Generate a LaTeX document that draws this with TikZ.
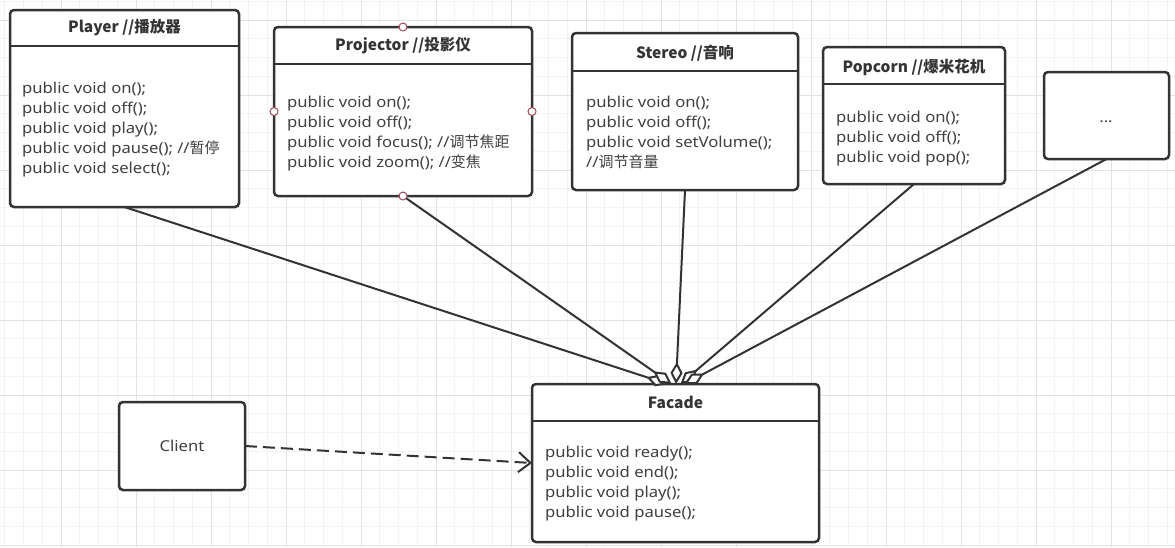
\documentclass[tikz,border=0pt]{standalone}
\usepackage{fontspec}
\setmainfont{Noto Sans}[FakeStretch=1.11]
\newfontfamily\cjk{Noto Sans CJK SC}
\usetikzlibrary{arrows.meta,calc}
\definecolor{ink}{HTML}{333333}
\definecolor{txt}{HTML}{404040}
\definecolor{gminor}{HTML}{F3F3F3}
\definecolor{gmajor}{HTML}{E3E3E3}
\definecolor{portc}{HTML}{9A4A55}
\tikzset{
  umlbox/.style={draw=ink, fill=white, line width=2.5pt, rounded corners=4pt, outer sep=0pt, inner sep=0pt, anchor=north west},
  divider/.style={draw=ink, line width=2.5pt},
  title/.style={font=\fontsize{15.5pt}{20pt}\selectfont\cjk\bfseries, text=ink, inner sep=0pt},
  body/.style={font=\fontsize{15pt}{20pt}\selectfont, text=txt, align=left, anchor=north west, inner sep=0pt},
  conn/.style={draw=ink, line width=2pt, -{Diamond[length=22pt,width=12pt,fill=white,line width=2pt]}},
  dep/.style={draw=ink, line width=2pt, dash pattern=on 12pt off 6pt, -{Straight Barb[length=12pt,width=20pt,line width=2pt]}},
  port/.style={circle, draw=portc, fill=white, line width=1pt, minimum size=8pt, inner sep=0pt}
}
\begin{document}
\begin{tikzpicture}[x=1pt, y=-1pt]
\useasboundingbox (0,0) rectangle (1175,547);
\fill[white] (0,0) rectangle (1175,547);
% grid
\foreach \i in {0,...,64} { \draw[gminor, line width=1pt] ({-14+18.75*\i},0) -- ({-14+18.75*\i},547); }
\foreach \j in {0,...,33} { \draw[gminor, line width=1pt] (0,{-55+18.75*\j}) -- (1175,{-55+18.75*\j}); }
\foreach \i in {0,...,16} { \draw[gmajor, line width=1pt] ({-14+75*\i},0) -- ({-14+75*\i},547); }
\foreach \j in {0,...,8} { \draw[gmajor, line width=1pt] (0,{-55+75*\j}) -- (1175,{-55+75*\j}); }

% boxes
\node[umlbox, minimum width=229pt, minimum height=197pt] (player) at (10,10) {};
\node[umlbox, minimum width=258pt, minimum height=169pt] (projector) at (274,27) {};
\node[umlbox, minimum width=226pt, minimum height=157pt] (stereo) at (572,33) {};
\node[umlbox, minimum width=182pt, minimum height=137pt] (popcorn) at (823,47) {};
\node[umlbox, minimum width=125pt, minimum height=87pt] (more) at (1044,72) {};
\node[umlbox, minimum width=287pt, minimum height=158pt] (facade) at (532,384) {};
\node[umlbox, minimum width=126pt, minimum height=88pt] (client) at (119,402) {};

% dividers
\draw[divider] (player.west |- 0,46) -- (player.east |- 0,46);
\draw[divider] (projector.west |- 0,64) -- (projector.east |- 0,64);
\draw[divider] (stereo.west |- 0,71) -- (stereo.east |- 0,71);
\draw[divider] (popcorn.west |- 0,84) -- (popcorn.east |- 0,84);
\draw[divider] (facade.west |- 0,421) -- (facade.east |- 0,421);

% titles
\node[title] (tplayer) at (124.5,28) {Player //播放器};
\node[title] (tprojector) at (403,46) {Projector //投影仪};
\node[title] (tstereo) at (685,53) {Stereo //音响};
\node[title] (tpopcorn) at (914,67) {Popcorn //爆米花机};
\node[title] (tfacade) at (675.5,402) {Facade};

% bodies
\node[body] (bplayer) at (22,82) {public void on();\\public void off();\\public void play();\\public void pause(); //{\cjk 暂停}\\public void select();};
\node[body] (bprojector) at (287,96) {public void on();\\public void off();\\public void focus(); //{\cjk 调节焦距}\\public void zoom(); //{\cjk 变焦}};
\node[body] (bstereo) at (586,96) {public void on();\\public void off();\\public void setVolume();\\//{\cjk 调节音量}};
\node[body] (bpopcorn) at (836,111) {public void on();\\public void off();\\public void pop();};
\node[body] (bfacade) at (545,446) {public void ready();\\public void end();\\public void play();\\public void pause();};
\node[font=\fontsize{15pt}{20pt}\selectfont, text=txt, inner sep=0pt] (tclient) at (client.center) {Client};
\node[font=\fontsize{15pt}{20pt}\selectfont, text=txt, inner sep=0pt, anchor=base] (tmore) at (1106,122) {...};

% connectors
\draw[conn] (player.south) -- ($(facade.north)+(-8,0)$);
\draw[conn] (projector.south) -- ($(facade.north)+(-4,0)$);
\draw[conn] (stereo.south) -- ($(facade.north)+(0.5,0)$);
\draw[conn] (popcorn.south) -- ($(facade.north)+(5,0)$);
\draw[conn] (more.south) -- ($(facade.north)+(9,0)$);
\draw[dep] (client.east) -- (facade.west);

% ports on projector
\node[port] (p1) at (projector.north) {};
\node[port] (p2) at (projector.west) {};
\node[port] (p3) at (projector.east) {};
\node[port] (p4) at (projector.south) {};
\end{tikzpicture}
\end{document}
